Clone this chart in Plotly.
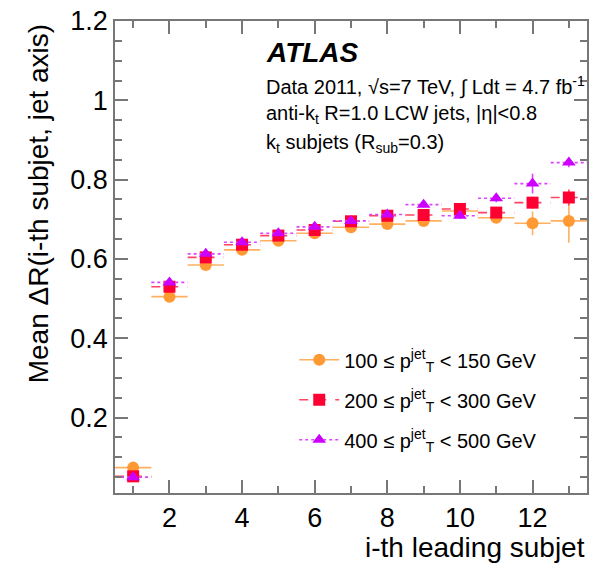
import plotly.graph_objects as go

subjet_index = list(range(1, 14))
bin_half_width = 0.5

mean_dr_100_150 = [0.074, 0.505, 0.585, 0.623, 0.646, 0.665, 0.680, 0.688, 0.696, 0.721, 0.704, 0.690, 0.696]
err_100_150 = [0.003, 0.004, 0.004, 0.004, 0.005, 0.005, 0.006, 0.007, 0.008, 0.010, 0.012, 0.030, 0.055]

mean_dr_200_300 = [0.052, 0.530, 0.604, 0.636, 0.659, 0.673, 0.695, 0.709, 0.711, 0.726, 0.717, 0.742, 0.755]
err_200_300 = [0.002, 0.003, 0.003, 0.003, 0.004, 0.004, 0.005, 0.005, 0.006, 0.008, 0.010, 0.015, 0.020]

mean_dr_400_500 = [0.050, 0.541, 0.613, 0.642, 0.665, 0.681, 0.696, 0.712, 0.737, 0.709, 0.753, 0.790, 0.843]
err_400_500 = [0.002, 0.003, 0.003, 0.004, 0.004, 0.005, 0.005, 0.006, 0.007, 0.008, 0.010, 0.025, 0.012]

series = [
    dict(name="100 ≤ p<sup>jet</sup><sub>T</sub> &lt; 150 GeV", y=mean_dr_100_150, err=err_100_150,
         color="#FF9933", line_color="#FFB060", dash="solid", symbol="circle", size=12),
    dict(name="200 ≤ p<sup>jet</sup><sub>T</sub> &lt; 300 GeV", y=mean_dr_200_300, err=err_200_300,
         color="#FF0033", line_color="#FF4466", dash="dash", symbol="square", size=12),
    dict(name="400 ≤ p<sup>jet</sup><sub>T</sub> &lt; 500 GeV", y=mean_dr_400_500, err=err_400_500,
         color="#CC00FF", line_color="#DD44FF", dash="dot", symbol="triangle-up", size=12),
]

FONT = "Liberation Sans, Arial, Helvetica, sans-serif"
fig = go.Figure()

for s in series:
    xs, ys = [], []
    for xi, yi in zip(subjet_index, s["y"]):
        xs += [xi - bin_half_width, xi + bin_half_width, None]
        ys += [yi, yi, None]
    fig.add_trace(go.Scatter(x=xs, y=ys, mode="lines", showlegend=False, hoverinfo="skip",
                             line=dict(color=s["line_color"], width=1.6, dash=s["dash"])))
    fig.add_trace(go.Scatter(x=subjet_index, y=s["y"], mode="markers", showlegend=False,
                             marker=dict(color=s["color"], symbol=s["symbol"], size=s["size"]),
                             error_y=dict(type="data", array=s["err"], color=s["line_color"],
                                          thickness=1.6, width=0)))

for i, s in enumerate(series):
    fig.add_trace(go.Scatter(x=[None], y=[None], mode="lines+markers", name=s["name"],
                             legendgroup=f"g{i}",
                             marker=dict(color=s["color"], symbol=s["symbol"], size=s["size"]),
                             line=dict(color=s["line_color"], width=1.6, dash=s["dash"])))

axis_common = dict(showgrid=False, zeroline=False, showline=True, linecolor="#777777", linewidth=1.5,
                   mirror="allticks", ticks="inside", ticklen=13, tickwidth=1.5, tickcolor="#777777",
                   tickfont=dict(family=FONT, size=27, color="black"))

fig.update_xaxes(range=[0.5, 13.5], dtick=2, tick0=0,
                 minor=dict(dtick=1, ticks="inside", ticklen=7, tickwidth=1.5, tickcolor="#777777"),
                 **axis_common)
fig.update_yaxes(range=[0.01, 1.2], dtick=0.2, tick0=0,
                 minor=dict(dtick=0.05, ticks="inside", ticklen=7, tickwidth=1.5, tickcolor="#777777"),
                 **axis_common)

W, H = 595, 564
L, R, T, B = 115, 6, 20, 71
pw, ph = W - L - R, H - T - B

def px(xp):
    return (xp - L) / pw

def py(yp):
    return (H - B - yp) / ph

annotations = [
    dict(text="<b><i>ATLAS</i></b>", x=px(265), y=py(52), xanchor="left", yanchor="middle",
         font=dict(family=FONT, size=28, color="black")),
    dict(text="Data 2011, √s=7 TeV, ∫ Ldt = 4.7 fb<sup>-1</sup>", x=px(265), y=py(85),
         xanchor="left", yanchor="middle", font=dict(family=FONT, size=20, color="black")),
    dict(text="anti-k<sub>t</sub> R=1.0 LCW jets, |η|&lt;0.8", x=px(265), y=py(114),
         xanchor="left", yanchor="middle", font=dict(family=FONT, size=20, color="black")),
    dict(text="k<sub>t</sub> subjets (R<sub>sub</sub>=0.3)", x=px(265), y=py(143),
         xanchor="left", yanchor="middle", font=dict(family=FONT, size=20, color="black")),
    dict(text="Mean ΔR(i-th subjet, jet axis)", textangle=-90, x=px(38), y=1.0,
         xanchor="center", yanchor="top", font=dict(family=FONT, size=28, color="black")),
    dict(text="i-th leading subjet", x=1.0, y=py(548), xanchor="right", yanchor="middle",
         font=dict(family=FONT, size=28, color="black")),
]
for a in annotations:
    a.update(xref="paper", yref="paper", showarrow=False)

fig.update_layout(
    width=W, height=H, margin=dict(l=L, r=R, t=T, b=B),
    paper_bgcolor="white", plot_bgcolor="white",
    annotations=annotations,
    legend=dict(x=px(295), y=py(340), xanchor="left", yanchor="top", bgcolor="rgba(0,0,0,0)",
                font=dict(family=FONT, size=20, color="black"), tracegroupgap=11, itemwidth=40),
)

fig.write_html("out.html")
